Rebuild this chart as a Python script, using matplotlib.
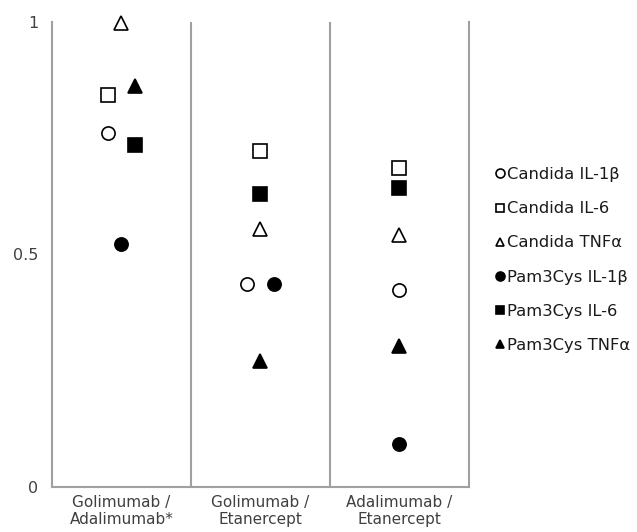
import numpy as np
import matplotlib
matplotlib.use('Agg')
import matplotlib.pyplot as plt

# comparisons (x categories)
groups = ['Golimumab /\nAdalimumab*', 'Golimumab /\nEtanercept', 'Adalimumab /\nEtanercept']

# correlation values, one list per series
candida_il1b = [0.761, 0.437, 0.424]
candida_il6 = [0.844, 0.723, 0.685]
candida_tnf = [0.997, 0.555, 0.542]
pam_il1b = [0.523, 0.437, 0.092]
pam_il6 = [0.735, 0.630, 0.644]
pam_tnf = [0.862, 0.272, 0.304]

# small sideways shifts used in the original so markers don't overlap
shift_candida_il1b = [-0.095, -0.095, 0]
shift_candida_il6 = [-0.095, 0, 0]
shift_candida_tnf = [0, 0, 0]
shift_pam_il1b = [0, 0.095, 0]
shift_pam_il6 = [0.095, 0, 0]
shift_pam_tnf = [0.095, 0, 0]

series = [
    ('Candida IL-1β', candida_il1b, shift_candida_il1b, 'o', 'white'),
    ('Candida IL-6', candida_il6, shift_candida_il6, 's', 'white'),
    ('Candida TNFα', candida_tnf, shift_candida_tnf, '^', 'white'),
    ('Pam3Cys IL-1β', pam_il1b, shift_pam_il1b, 'o', 'black'),
    ('Pam3Cys IL-6', pam_il6, shift_pam_il6, 's', 'black'),
    ('Pam3Cys TNFα', pam_tnf, shift_pam_tnf, '^', 'black'),
]

fig = plt.figure(figsize=(6.37, 5.32), dpi=100)
ax = fig.add_axes([0.0816, 0.0846, 0.6546, 0.8741])

centres = np.arange(len(groups)) + 0.5
for label, vals, shift, marker, face in series:
    ax.plot(centres + np.array(shift), vals, linestyle='None', marker=marker,
            markersize=9.5, markerfacecolor=face, markeredgecolor='black',
            markeredgewidth=1.2, label=label, clip_on=False, zorder=3)

ax.set_xlim(0, 3)
ax.set_ylim(0, 1)
for x in [1, 2]:
    ax.axvline(x, color='#a0a0a0', linewidth=1.5, zorder=1)

for side in ['left', 'right', 'bottom']:
    ax.spines[side].set_color('#a0a0a0')
    ax.spines[side].set_linewidth(1.5)
ax.spines['top'].set_visible(False)

ax.set_xticks(centres)
ax.set_xticklabels(groups, fontsize=11, color='#404040', linespacing=1.15)
ax.set_yticks([0, 0.5, 1])
ax.set_yticklabels(['0', '0.5', '1'], fontsize=11.5, color='#404040')
ax.tick_params(axis='x', length=0, pad=6)
ax.tick_params(axis='y', length=0, pad=10)

leg = ax.legend(loc='center left', bbox_to_anchor=(1.05, 0.488), frameon=False,
                fontsize=11.8, handlelength=0.5, handletextpad=0.15,
                labelspacing=1.17, markerscale=0.68, borderaxespad=0)
for t in leg.get_texts():
    t.set_color('#1a1a1a')

fig.savefig('out.png', dpi=100)
